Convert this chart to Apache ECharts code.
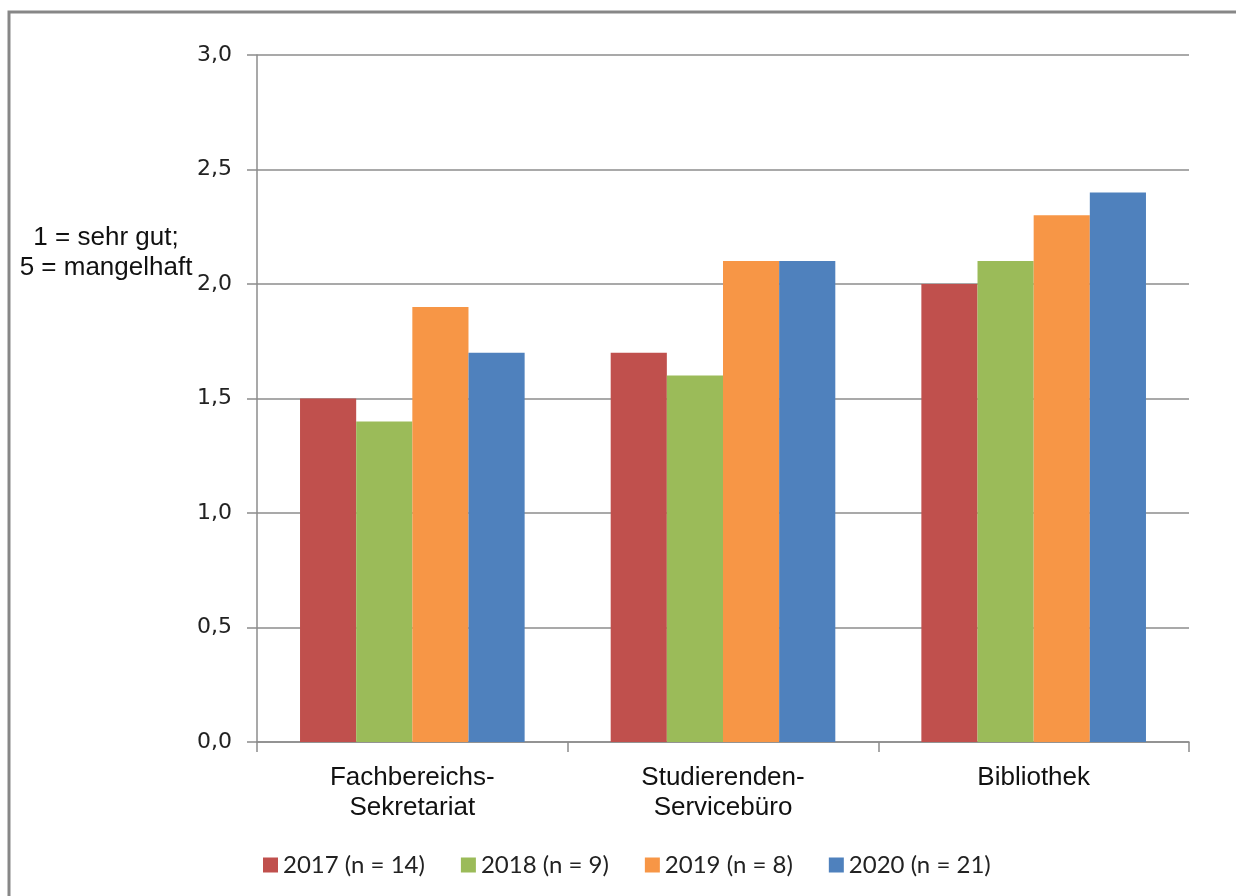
<!DOCTYPE html>
<html>
<head>
<meta charset="utf-8">
<script src="https://cdn.jsdelivr.net/npm/echarts@6/dist/echarts.min.js"></script>
<style>
  html, body { margin: 0; padding: 0; background: #fff; }
  #main { width: 1236px; height: 896px; }
</style>
</head>
<body>
<div id="main"></div>
<script>
// data
const categories = ['Fachbereichs-\nSekretariat', 'Studierenden-\nServicebüro', 'Bibliothek']
const seriesNames = ['2017 (n = 14)', '2018 (n = 9)', '2019 (n = 8)', '2020 (n = 21)']
const values2017 = [1.5, 1.7, 2.0]
const values2018 = [1.4, 1.6, 2.1]
const values2019 = [1.9, 2.1, 2.3]
const values2020 = [1.7, 2.1, 2.4]
const colors = ['#C0504D', '#9BBB59', '#F79646', '#4F81BD']

const allValues = [values2017, values2018, values2019, values2020]

const chart = echarts.init(document.getElementById('main'))

const option = {
  animation: false,
  color: colors,
  grid: {
    left: 257,
    right: 47,
    top: 55,
    bottom: 154
  },
  legend: {
    data: seriesNames,
    left: 258,
    top: 848,
    icon: 'rect',
    itemWidth: 15,
    itemHeight: 15,
    itemGap: 36,
    textStyle: {
      fontFamily: 'Lato',
      fontSize: 24,
      color: '#222'
    }
  },
  xAxis: {
    type: 'category',
    data: categories,
    axisLine: { lineStyle: { color: '#8c8c8c', width: 1.5 } },
    axisTick: { show: true, length: 10, lineStyle: { color: '#8c8c8c', width: 1.5 } },
    axisLabel: {
      margin: 21,
      fontFamily: 'Liberation Sans',
      fontSize: 26,
      lineHeight: 30,
      color: '#111'
    }
  },
  yAxis: {
    type: 'value',
    min: 0,
    max: 3,
    interval: 0.5,
    axisLine: { show: true, lineStyle: { color: '#8c8c8c', width: 1.5 } },
    axisTick: { show: true, length: 10, lineStyle: { color: '#8c8c8c', width: 1.5 } },
    splitLine: { lineStyle: { color: '#8c8c8c', width: 1.5 } },
    axisLabel: {
      margin: 25,
      fontFamily: 'DejaVu Sans',
      fontSize: 22,
      color: '#222',
      formatter: v => v.toFixed(1).replace('.', ',')
    }
  },
  graphic: [
    {
      type: 'rect',
      shape: { x: 9, y: 12, width: 1260, height: 920 },
      style: { fill: 'none', stroke: '#878787', lineWidth: 3 },
      silent: true
    },
    {
      type: 'text',
      x: 106,
      y: 253,
      style: {
        text: '1 = sehr gut;\n5 = mangelhaft',
        fontFamily: 'Liberation Sans',
        fontSize: 26,
        lineHeight: 30,
        fill: '#111',
        align: 'center',
        verticalAlign: 'middle'
      }
    }
  ],
  series: seriesNames.map((name, i) => ({
    name: name,
    type: 'bar',
    data: allValues[i],
    barGap: '0%',
    barCategoryGap: '27.7%'
  }))
}

chart.setOption(option)
</script>
</body>
</html>
